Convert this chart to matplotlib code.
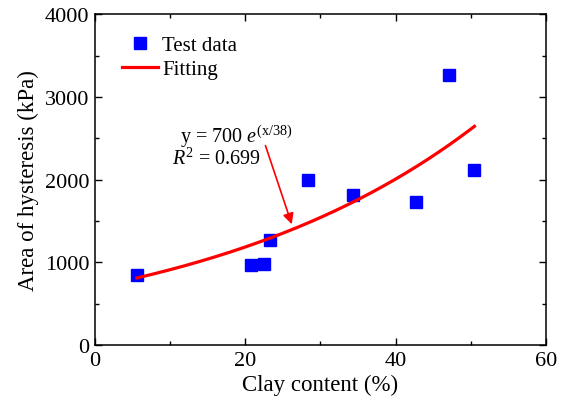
import numpy as np
import matplotlib
matplotlib.use("Agg")
import matplotlib.pyplot as plt
from matplotlib.ticker import MultipleLocator

plt.rcParams['font.family'] = ['Liberation Serif', 'DejaVu Serif']
plt.rcParams['mathtext.fontset'] = 'custom'
plt.rcParams['mathtext.rm'] = 'Liberation Serif'
plt.rcParams['mathtext.it'] = 'Liberation Serif:italic'

clay = [5.6, 20.8, 22.5, 23.3, 28.3, 34.3, 42.7, 47.1, 50.5]
area = [850, 970, 980, 1265, 1995, 1815, 1730, 3265, 2115]

fit_a = 700
fit_b = 38
fit_x = np.linspace(5.6, 50.5, 200)
fit_y = fit_a * np.exp(fit_x / fit_b)

fig = plt.figure(figsize=(5.68, 4.10), dpi=100)
ax = fig.add_axes([0.167, 0.156, 0.794, 0.807])

ax.plot(fit_x, fit_y, color='#ff0000', lw=2.3, label='Fitting', zorder=3)
ax.plot(clay, area, 's', color='#0000ff', ms=8.5, mec='#0000ff', ls='none',
        label='Test data', zorder=2)

ax.set_xlim(0, 60)
ax.set_ylim(0, 4000)
ax.xaxis.set_major_locator(MultipleLocator(20))
ax.xaxis.set_minor_locator(MultipleLocator(10))
ax.yaxis.set_major_locator(MultipleLocator(1000))
ax.yaxis.set_minor_locator(MultipleLocator(500))
ax.tick_params(which='both', direction='in', top=True, right=True,
               labelsize=16, width=1)
ax.tick_params(which='major', length=5, pad=4)
ax.tick_params(which='minor', length=3)
for s in ax.spines.values():
    s.set_linewidth(1.1)

ax.set_xlabel('Clay content (%)', fontsize=16.5, labelpad=3)
ax.set_ylabel('Area of hysteresis (kPa)', fontsize=16.5, labelpad=4)

h, l = ax.get_legend_handles_labels()
ax.legend([h[1], h[0]], [l[1], l[0]], loc='upper left', frameon=False,
          fontsize=15, handlelength=1.73, handletextpad=0.2,
          borderaxespad=0, borderpad=0, labelspacing=0.2,
          bbox_to_anchor=(0.060, 0.935))

ax.text(11.3, 2453, r'y = 700 $\it{e}^{\mathrm{(x/38)}}$', fontsize=14.5,
        ha='left', va='baseline')
ax.text(10.2, 2187, r'$\it{R}^{\mathrm{2}}$ = 0.699', fontsize=14.5,
        ha='left', va='baseline')

ax.annotate('', xy=(26.2, 1460), xytext=(22.7, 2410),
            arrowprops=dict(arrowstyle='-|>', color='#ff0000', lw=1.2,
                            mutation_scale=16, shrinkA=0, shrinkB=0))

fig.savefig('out.png', dpi=100)
